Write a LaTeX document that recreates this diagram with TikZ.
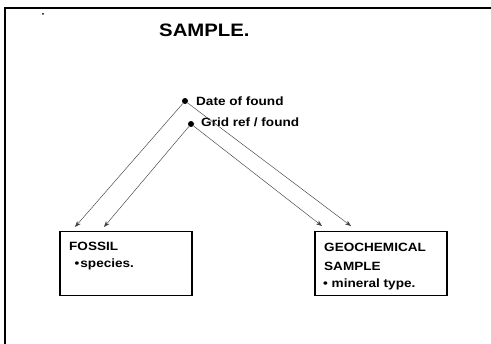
\documentclass[tikz,border=0pt]{standalone}
\usepackage{fontspec}
\newfontfamily\lab[FakeStretch=1.13]{Liberation Sans}
\usetikzlibrary{arrows.meta}
\tikzset{
  frame/.style={line width=1.2pt},
  box/.style={draw, line width=1.1pt, minimum width=132pt, minimum height=64pt, inner sep=0pt},
  txt/.style={font=\lab\bfseries\fontsize{12}{14}\selectfont, inner sep=0pt, anchor=base west},
  title/.style={font=\lab\bfseries\fontsize{18}{20}\selectfont, inner sep=0pt, anchor=base west},
  dot/.style={circle, fill, inner sep=0pt, minimum size=6pt},
  link/.style={line width=0.45pt, draw=black!75, -{Stealth[length=6pt,width=4.5pt]}}
}
\begin{document}
\begin{tikzpicture}[x=1pt,y=-1pt]
  \useasboundingbox (0,0) rectangle (491,344);
  % outer frame (open on the right and bottom)
  \draw[frame] (5,344) -- (5,8) -- (491,8);
  \fill (43,14) circle (1pt);
  % heading
  \node[title] (head) at (159,37) {SAMPLE.};
  % the two sample attributes
  \node[dot] (d1) at (185,101) {};
  \node[txt] (t1) at (196,106) {Date of found};
  \node[dot] (d2) at (191,124) {};
  \node[txt] (t2) at (201,127) {Grid ref / found};
  % target boxes
  \node[box] (fossil) at (126,263.5) {};
  \node[box] (geo) at (381,263.5) {};
  \node[txt] (f1) at (69,251) {FOSSIL};
  \node[txt] (f2) at (74.5,268) {•\hspace{1pt}species.};
  \node[txt] (g1) at (324,252) {GEOCHEMICAL};
  \node[txt] (g2) at (324,271) {SAMPLE};
  \node[txt] (g3) at (323,288) {• mineral type.};
  % arrow ends just above the boxes
  \coordinate (a1) at (75,227);
  \coordinate (a2) at (104,227);
  \coordinate (a3) at (322,226);
  \coordinate (a4) at (351,226);
  \draw[link] (d1) -- (a1);
  \draw[link] (d2) -- (a2);
  \draw[link] (d2) -- (a3);
  \draw[link] (d1) -- (a4);
\end{tikzpicture}
\end{document}
